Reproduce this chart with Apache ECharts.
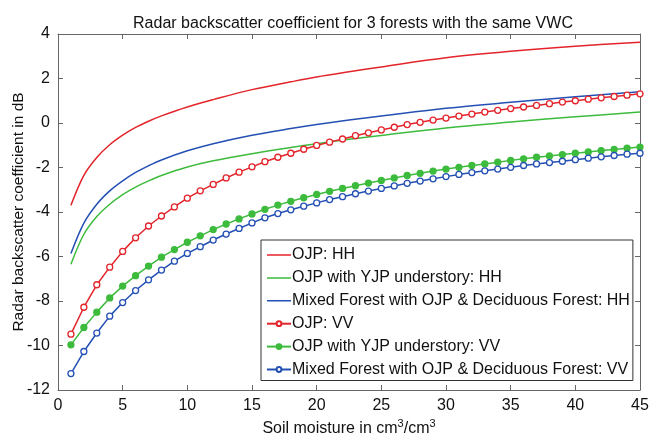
<!DOCTYPE html>
<html>
<head>
<meta charset="utf-8">
<script src="https://cdn.jsdelivr.net/npm/echarts@6/dist/echarts.min.js"></script>
<style>html,body{margin:0;padding:0;background:#fff}#c{width:650px;height:436px}</style>
</head>
<body>
<div id="c"></div>
<script>
// Soil moisture values (x) for VV series
var xVV = [1,2,3,4,5,6,7,8,9,10,11,12,13,14,15,16,17,18,19,20,21,22,23,24,25,26,27,28,29,30,31,32,33,34,35,36,37,38,39,40,41,42,43,44,45];
var ojpVV = [-9.49,-8.28,-7.27,-6.48,-5.77,-5.16,-4.63,-4.18,-3.77,-3.38,-3.05,-2.76,-2.47,-2.21,-1.97,-1.74,-1.54,-1.36,-1.18,-1.01,-0.86,-0.72,-0.57,-0.44,-0.31,-0.19,-0.07,0.03,0.13,0.22,0.31,0.40,0.49,0.57,0.65,0.72,0.79,0.87,0.94,1.00,1.07,1.13,1.19,1.25,1.31];
var yjpVV = [-9.97,-9.19,-8.50,-7.86,-7.33,-6.86,-6.43,-6.03,-5.69,-5.36,-5.07,-4.79,-4.54,-4.31,-4.09,-3.88,-3.69,-3.52,-3.36,-3.21,-3.07,-2.94,-2.82,-2.70,-2.58,-2.47,-2.36,-2.26,-2.16,-2.07,-1.99,-1.91,-1.84,-1.76,-1.68,-1.61,-1.54,-1.48,-1.42,-1.36,-1.30,-1.24,-1.19,-1.13,-1.08];
var mixVV = [-11.26,-10.27,-9.44,-8.68,-8.07,-7.53,-7.05,-6.61,-6.21,-5.86,-5.56,-5.26,-4.99,-4.74,-4.49,-4.26,-4.07,-3.90,-3.74,-3.59,-3.44,-3.31,-3.18,-3.06,-2.94,-2.83,-2.71,-2.61,-2.51,-2.41,-2.31,-2.23,-2.15,-2.07,-1.99,-1.91,-1.84,-1.78,-1.72,-1.65,-1.58,-1.52,-1.46,-1.40,-1.36];
// Soil moisture values (x) read for HH curves
var xHH = [1,2,3,4,5,6,7,8,10,12,15,18,20,22.5,25,30,35,40,45];
var ojpHH = [-3.70,-2.35,-1.55,-0.98,-0.55,-0.20,0.08,0.32,0.72,1.05,1.50,1.85,2.07,2.30,2.52,2.93,3.22,3.45,3.63];
var yjpHH = [-6.35,-5.00,-4.20,-3.65,-3.22,-2.88,-2.60,-2.36,-1.98,-1.70,-1.38,-1.10,-0.93,-0.73,-0.56,-0.22,0.04,0.28,0.49];
var mixHH = [-5.87,-4.50,-3.65,-3.05,-2.60,-2.22,-1.92,-1.66,-1.25,-0.93,-0.55,-0.25,-0.07,0.13,0.31,0.66,0.93,1.18,1.40];
var names = ['OJP: HH','OJP with YJP understory: HH','Mixed Forest with OJP & Deciduous Forest: HH','OJP: VV','OJP with YJP understory: VV','Mixed Forest with OJP & Deciduous Forest: VV'];
var xTicks = [0,5,10,15,20,25,30,35,40,45];
var yTicks = [-12,-10,-8,-6,-4,-2,0,2,4];

function pairs(xs, ys){ return xs.map(function(x,i){return [x, ys[i]];}); }
var RED='#e3242b', GREEN='#3dbb3d', BLUE='#2450b4';
var COLS=[RED,GREEN,BLUE,RED,GREEN,BLUE];
var FONT='"Liberation Sans", Arial, sans-serif';
var axisCol='#666';
var LINE_ICON='path://M0,0L0.001,0L0,0.001Z M0,6L0.001,6L0,5.999Z M0,2.25H24V3.75H0Z';

var chart = echarts.init(document.getElementById('c'), null, {renderer:'canvas'});
function hh(name, xs, ys, col){
  return {name:name, type:'line', data:pairs(xs,ys), smooth:0.35, symbol:'none', showSymbol:false,
    lineStyle:{color:col, width:1.5}, itemStyle:{color:col}, z:2, animation:false};
}
function vv(name, xs, ys, col, filled){
  return {name:name, type:'line', data:pairs(xs,ys), symbol:'circle', symbolSize:6, showSymbol:true,
    lineStyle:{color:col, width:1.5},
    itemStyle:{color: filled ? col : '#ffffff', borderColor:col, borderWidth:1.3}, z:3, animation:false};
}
var legendData = names.map(function(n,i){
  return i<3 ? {name:n, icon:LINE_ICON, itemStyle:{color:COLS[i], borderWidth:0}} : {name:n};
});
var option = {
  animation:false,
  backgroundColor:'#fff',
  title:{text:'Radar backscatter coefficient for 3 forests with the same VWC', left:348, textAlign:'center', top:11,
    textStyle:{fontFamily:FONT, fontSize:16, fontWeight:'normal', color:'#111'}},
  grid:{left:58, right:10, top:34, bottom:46, containLabel:false, outerBoundsMode:'none'},
  legend:{orient:'vertical', left:261, top:240, data:legendData, itemWidth:24, itemHeight:6, itemGap:6.9,
    padding:[7,3,3,5], borderColor:'#333', borderWidth:1, backgroundColor:'#fff',
    textStyle:{fontFamily:FONT, fontSize:16, color:'#111', lineHeight:16, padding:[0,0,0,-4]}, selectedMode:false},
  xAxis:[{type:'value', min:xTicks[0], max:xTicks[xTicks.length-1], interval:5,
    name:'Soil moisture in cm{s|3}/cm{s|3}', nameLocation:'middle', nameGap:23,
    nameTextStyle:{fontFamily:FONT, fontSize:16, color:'#111', rich:{s:{fontSize:11, verticalAlign:'top', padding:[0,0,9,0], fontFamily:FONT, color:'#111'}}},
    axisLine:{onZero:false, lineStyle:{color:axisCol, width:1}}, axisTick:{inside:true, length:5, lineStyle:{color:axisCol}},
    axisLabel:{fontFamily:FONT, fontSize:16, color:'#111', margin:8}, splitLine:{show:false}},
   {type:'value', position:'top', min:0, max:45, interval:5, axisLine:{onZero:false, lineStyle:{color:axisCol}},
    axisTick:{inside:true, length:5, lineStyle:{color:axisCol}}, axisLabel:{show:false}, splitLine:{show:false}}],
  yAxis:[{type:'value', min:yTicks[0], max:yTicks[yTicks.length-1], interval:2,
    name:'Radar backscatter coefficient in dB', nameLocation:'middle', nameGap:31, nameMoveOverlap:false,
    nameTextStyle:{fontFamily:FONT, fontSize:15.5, color:'#111'},
    axisLine:{onZero:false, lineStyle:{color:axisCol, width:1}}, axisTick:{inside:true, length:5, lineStyle:{color:axisCol}},
    axisLabel:{fontFamily:FONT, fontSize:16, color:'#111', margin:8}, splitLine:{show:false}},
   {type:'value', position:'right', min:-12, max:4, interval:2, axisLine:{onZero:false, lineStyle:{color:axisCol}},
    axisTick:{inside:true, length:5, lineStyle:{color:axisCol}}, axisLabel:{show:false}, splitLine:{show:false}}],
  series:[
    hh(names[0], xHH, ojpHH, RED),
    hh(names[1], xHH, yjpHH, GREEN),
    hh(names[2], xHH, mixHH, BLUE),
    vv(names[3], xVV, ojpVV, RED, false),
    vv(names[4], xVV, yjpVV, GREEN, true),
    vv(names[5], xVV, mixVV, BLUE, false)
  ]
};
chart.setOption(option);
</script>
</body>
</html>
